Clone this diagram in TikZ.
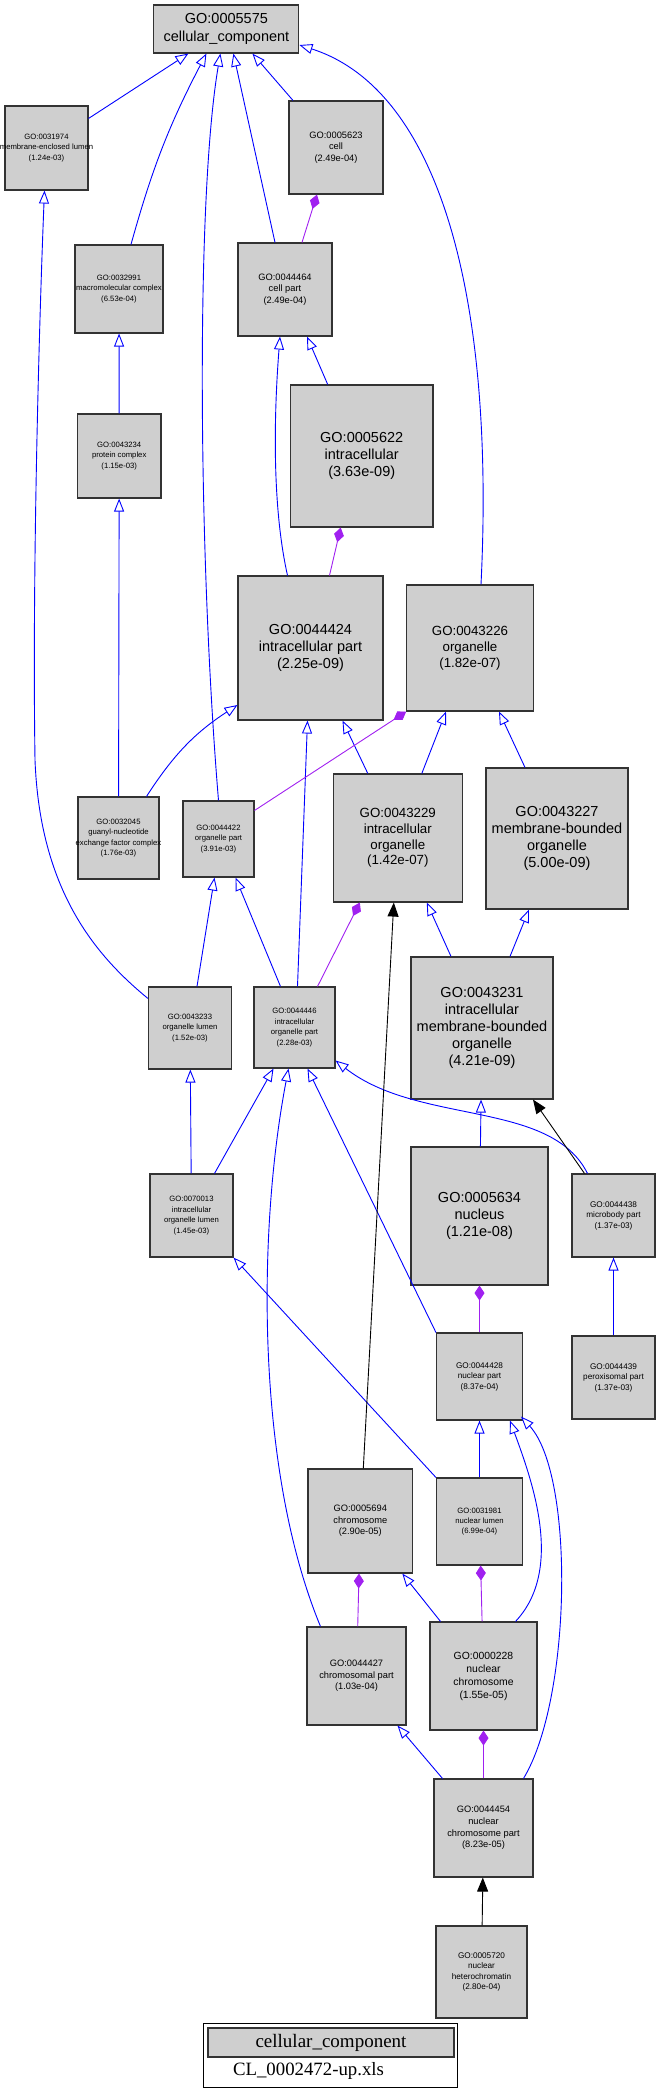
\documentclass[tikz,border=0pt]{standalone}
\usepackage{fontspec}
\setmainfont{Liberation Sans}
\newfontfamily\legendfont{Liberation Serif}
\usetikzlibrary{arrows.meta}
\definecolor{gofill}{RGB}{207,207,207}
\definecolor{goblue}{RGB}{0,0,255}
\definecolor{gopurple}{RGB}{160,32,240}

\begin{document}
\begin{tikzpicture}[x=1pt,y=-1pt,
  gobox/.style 2 args={draw=black!80,line width=1.1pt,fill=gofill,inner sep=0pt,align=center,minimum width=#1pt,minimum height=#2pt},
  biglabel/.style={font=\fontsize{14.5}{17.2}\selectfont},
  midlabel/.style={font=\fontsize{13.3}{15.8}\selectfont},
  medlabel/.style={font=\fontsize{10.4}{13}\selectfont},
  smalllabel/.style={font=\fontsize{9.3}{11.6}\selectfont},
  smallerlabel/.style={font=\fontsize{8.2}{10.5}\selectfont},
  tinylabel/.style={font=\fontsize{7.7}{10.4}\selectfont},
  isa/.style={draw=goblue,line width=0.9pt,-{Triangle[open,length=13pt,width=10pt]}},
  partof/.style={draw=gopurple,line width=0.9pt,-{Diamond[length=15pt,width=10pt,fill=gopurple]}},
  regarrow/.style={draw=black,line width=0.9pt,-{Triangle[length=14pt,width=11pt]}}]
\useasboundingbox (0,0) rectangle (657,2097);

\node[gobox={145}{48},biglabel] (g5575) at (226.4,29) {GO:0005575\\cellular\_component};
\node[gobox={83}{84},tinylabel] (g31974) at (46.5,148) {GO:0031974\\\makebox[0pt]{membrane-enclosed lumen}\\(1.24e-03)};
\node[gobox={94}{93},smalllabel] (g5623) at (336,147.5) {GO:0005623\\cell\\(2.49e-04)};
\node[gobox={88}{88},tinylabel] (g32991) at (119,289) {GO:0032991\\\makebox[0pt]{macromolecular complex}\\(6.53e-04)};
\node[gobox={94}{93},smalllabel] (g44464) at (285,289.5) {GO:0044464\\cell part\\(2.49e-04)};
\node[gobox={142.5}{142},biglabel] (g5622) at (361.7,456) {GO:0005622\\intracellular\\(3.63e-09)};
\node[gobox={83.5}{84},tinylabel] (g43234) at (119.2,456) {GO:0043234\\protein complex\\(1.15e-03)};
\node[gobox={145}{144},biglabel] (g44424) at (310.5,648) {GO:0044424\\intracellular part\\(2.25e-09)};
\node[gobox={126.5}{126},midlabel] (g43226) at (470,648) {GO:0043226\\organelle\\(1.82e-07)};
\node[gobox={81}{82},tinylabel] (g32045) at (118.5,838) {GO:0032045\\guanyl-nucleotide\\\makebox[0pt]{exchange factor complex}\\(1.76e-03)};
\node[gobox={71}{76},tinylabel] (g44422) at (218.5,839) {GO:0044422\\organelle part\\(3.91e-03)};
\node[gobox={128.5}{128},midlabel] (g43229) at (397.8,838) {GO:0043229\\intracellular\\organelle\\(1.42e-07)};
\node[gobox={142}{141},biglabel] (g43227) at (557,838.5) {GO:0043227\\membrane-bounded\\organelle\\(5.00e-09)};
\node[gobox={83}{82},tinylabel] (g43233) at (190,1028) {GO:0043233\\organelle lumen\\(1.52e-03)};
\node[gobox={81}{81},tinylabel] (g44446) at (294.5,1027.5) {GO:0044446\\intracellular\\organelle part\\(2.28e-03)};
\node[gobox={142}{142},biglabel] (g43231) at (482,1028) {GO:0043231\\intracellular\\membrane-bounded\\organelle\\(4.21e-09)};
\node[gobox={83}{83},tinylabel] (g70013) at (191.5,1215.5) {GO:0070013\\intracellular\\organelle lumen\\(1.45e-03)};
\node[gobox={137}{138},biglabel] (g5634) at (479.5,1216) {GO:0005634\\nucleus\\(1.21e-08)};
\node[gobox={83}{83},smallerlabel] (g44438) at (613.5,1215.5) {GO:0044438\\microbody part\\(1.37e-03)};
\node[gobox={86}{87},smallerlabel] (g44428) at (479.5,1376.5) {GO:0044428\\nuclear part\\(8.37e-04)};
\node[gobox={83}{83},smallerlabel] (g44439) at (613.5,1377.5) {GO:0044439\\peroxisomal part\\(1.37e-03)};
\node[gobox={104.6}{104},smalllabel] (g5694) at (360.3,1521) {GO:0005694\\chromosome\\(2.90e-05)};
\node[gobox={86}{87},tinylabel] (g31981) at (479.5,1521.5) {GO:0031981\\nuclear lumen\\(6.99e-04)};
\node[gobox={99}{98},smalllabel] (g44427) at (356.5,1676) {GO:0044427\\chromosomal part\\(1.03e-04)};
\node[gobox={107}{108},medlabel] (g228) at (483.5,1676) {GO:0000228\\nuclear\\chromosome\\(1.55e-05)};
\node[gobox={99}{98},smalllabel] (g44454) at (483.5,1828) {GO:0044454\\nuclear\\chromosome part\\(8.23e-05)};
\node[gobox={91}{92},smallerlabel] (g5720) at (481.5,1972) {GO:0005720\\nuclear\\heterochromatin\\(2.80e-04)};

\draw[isa] ([yshift=-13pt]g31974.north east) -- ([xshift=-38pt]g5575.south);
\draw[isa] ([xshift=12pt]g32991.north) to[bend left=6] ([xshift=-20pt]g5575.south);
\draw[isa] (g44422.north) .. controls +(-20,-241) and +(-25,147) .. ([xshift=-6pt]g5575.south);
\draw[isa] ([xshift=-10pt]g44464.north) -- ([xshift=7pt]g5575.south);
\draw[isa] ([xshift=-43pt]g5623.north) -- ([xshift=26pt]g5575.south);
\draw[isa] ([xshift=11pt]g43226.north) .. controls +(14,-285) and +(141,45) .. ([yshift=-16pt]g5575.east);
\draw[isa] ([yshift=-12pt]g43233.north west) .. controls (95,955) and (40,890) .. (35,760) .. controls (32,560) and (40,300) .. ([xshift=-2pt]g31974.south);
\draw[isa] (g43234) -- (g32991);
\draw[isa] (g32045) -- (g43234);
\draw[isa] ([xshift=-23pt]g44424.north) .. controls +(-17,-76) and +(-5,64) .. ([xshift=-5pt]g44464.south);
\draw[isa] ([xshift=-34pt]g5622.north) -- ([xshift=22pt]g44464.south);
\draw[isa] ([xshift=28pt]g32045.north) to[bend left=12] ([yshift=-57pt]g44424.west);
\draw[isa] ([xshift=3pt]g44446.north) -- ([xshift=-3pt]g44424.south);
\draw[isa] ([xshift=-30pt]g43229.north) -- ([xshift=32pt]g44424.south);
\draw[isa] ([xshift=24pt]g43229.north) -- ([xshift=-24pt]g43226.south);
\draw[isa] ([xshift=-32pt]g43227.north) -- ([xshift=29pt]g43226.south);
\draw[isa] ([xshift=7pt]g43233.north) -- ([xshift=-4pt]g44422.south);
\draw[isa] ([xshift=-14pt]g44446.north) -- ([xshift=17pt]g44422.south);
\draw[isa] ([xshift=-31pt]g43231.north) -- ([xshift=29pt]g43229.south);
\draw[isa] ([xshift=28pt]g43231.north) -- ([xshift=-28pt]g43227.south);
\draw[isa] (g70013) -- (g43233);
\draw[isa] ([xshift=23pt]g70013.north) -- ([xshift=-21pt]g44446.south);
\draw[isa] ([xshift=-36pt]g44427.north) .. controls +(-65,-157) and +(-31,162) .. ([xshift=-6pt]g44446.south);
\draw[isa] (g44428.north west) -- ([xshift=13pt]g44446.south);
\draw[isa] ([xshift=-26pt]g44438.north) .. controls +(-37,-74) and +(83,65) .. ([yshift=-33pt]g44446.east);
\draw[isa] (g5634) -- (g43231);
\draw[isa] (g44439) -- (g44438);
\draw[isa] (g31981.north west) -- (g70013.south east);
\draw[isa] (g31981) -- (g44428);
\draw[isa] ([xshift=32pt]g228.north) .. controls +(49,-52) and +(22,60) .. ([xshift=30.5pt]g44428.south);
\draw[isa] ([xshift=40pt]g44454.north) .. controls +(48,-79) and +(54,59) .. ([xshift=-2pt,yshift=4pt]g44428.south east);
\draw[isa] ([xshift=-43pt]g228.north) -- ([xshift=42pt]g5694.south);
\draw[isa] ([xshift=-41pt]g44454.north) -- ([xshift=41pt]g44427.south);

\draw[partof] ([xshift=17pt]g44464.north) -- ([xshift=-19pt]g5623.south);
\draw[partof] ([xshift=19pt]g44424.north) -- ([xshift=-21pt]g5622.south);
\draw[partof] ([yshift=-10pt]g44422.north east) -- (g43226.south west);
\draw[partof] ([xshift=23pt]g44446.north) -- ([xshift=-38pt]g43229.south);
\draw[partof] (g44428) -- (g5634);
\draw[partof] (g44427) -- (g5694);
\draw[partof] (g228) -- (g31981);
\draw[partof] (g44454) -- (g228);

\draw[regarrow] ([xshift=3pt]g5694.north) -- ([xshift=-4pt]g43229.south);
\draw[regarrow] ([xshift=-29pt]g44438.north) -- ([xshift=51pt]g43231.south);
\draw[regarrow] (g5720) -- (g44454);

\node[draw=black,line width=1pt,fill=white,minimum width=254pt,minimum height=64pt] (legend) at (330,2055) {};
\node[draw=black!80,line width=1.1pt,fill=gofill,minimum width=246pt,minimum height=29pt,inner sep=0pt,font=\legendfont\fontsize{19}{22}\selectfont] (legendhead) at (331,2042.5) {cellular\_component};
\node[inner sep=0pt,font=\legendfont\fontsize{18.8}{22}\selectfont] (legendfile) at (308.5,2071) {CL\_0002472-up.xls};
\end{tikzpicture}
\end{document}
